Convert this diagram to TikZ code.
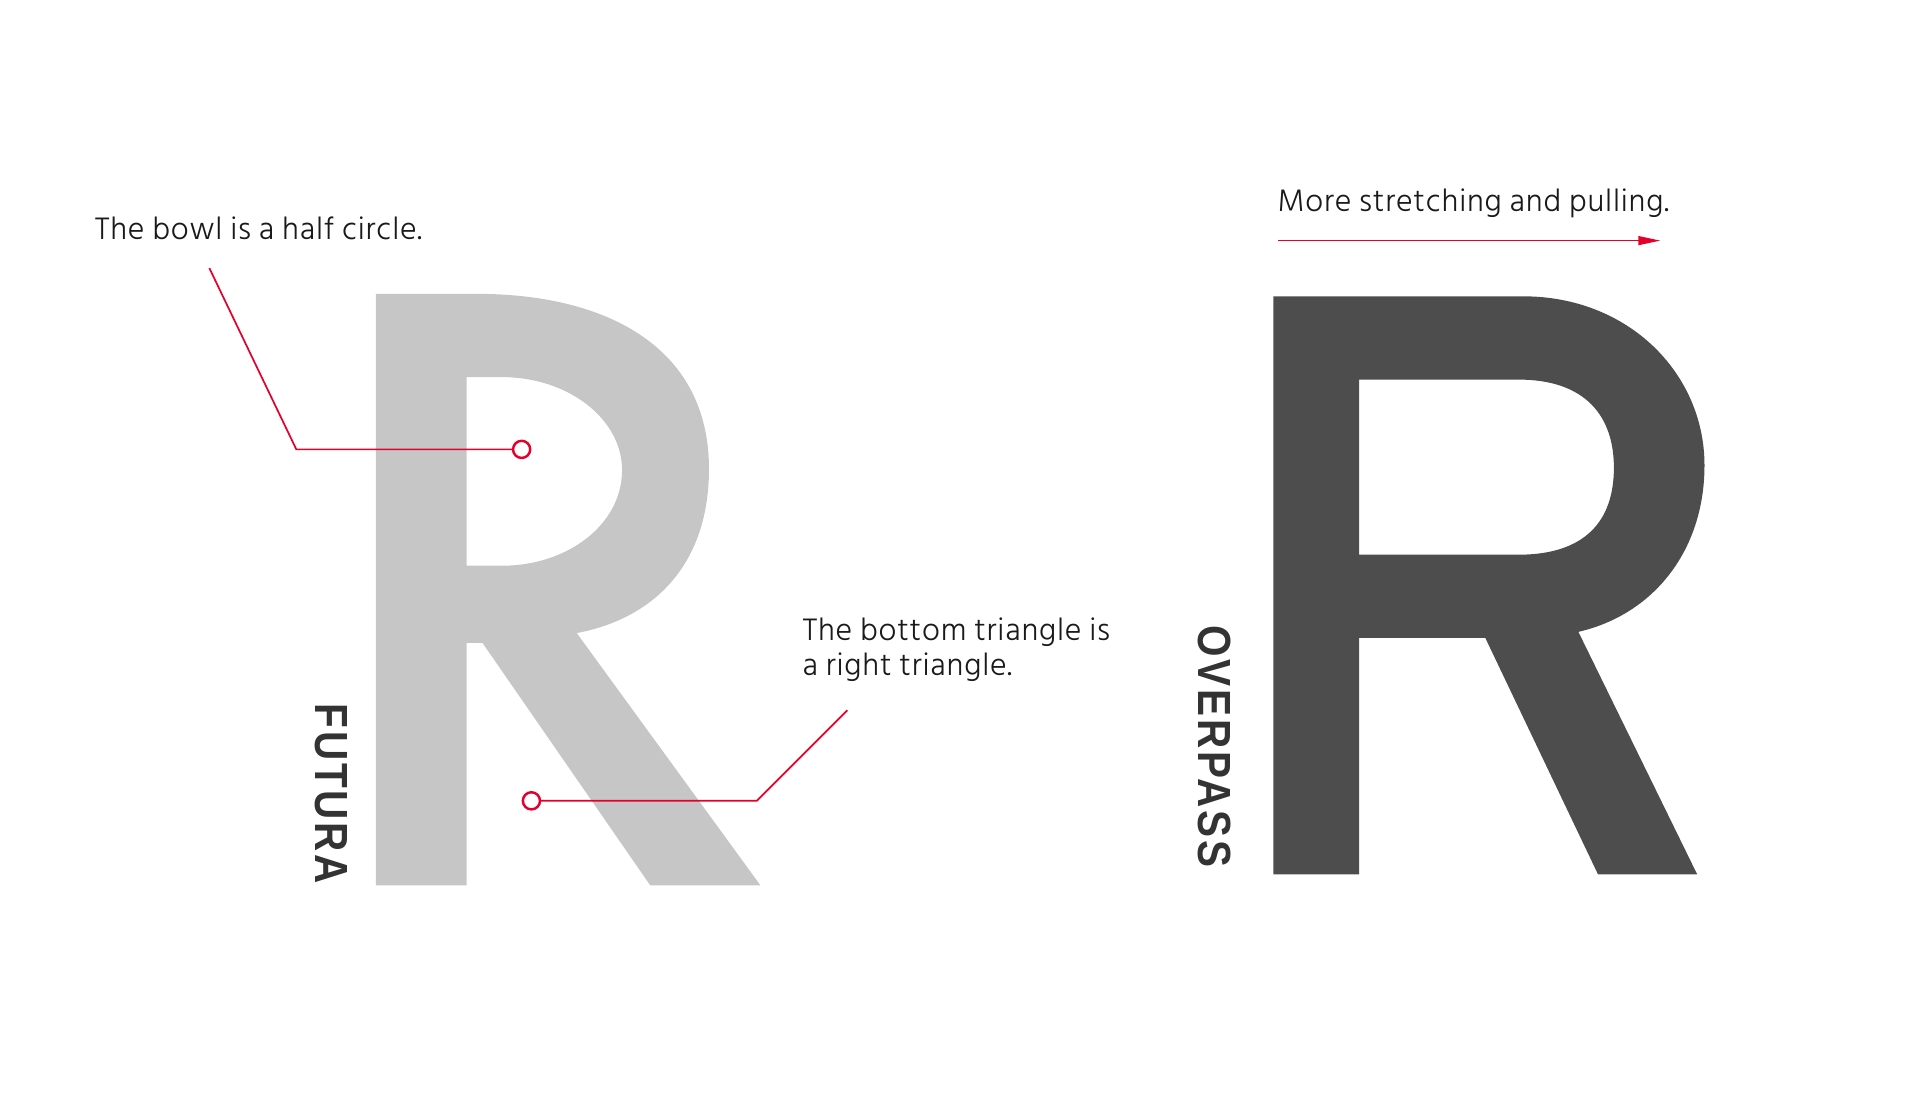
\documentclass[tikz,border=0pt]{standalone}
\usepackage{fontspec}
\setmainfont{Hind Siliguri}[UprightFont={* Light}, LetterSpace=2.5]
\newfontfamily\labelfont{Liberation Sans}[LetterSpace=6, FakeStretch=0.87]
\usetikzlibrary{arrows.meta}
\definecolor{futuragray}{HTML}{C6C6C6}
\definecolor{overpassgray}{HTML}{4D4D4D}
\definecolor{annred}{HTML}{E4002B}
\definecolor{labelgray}{HTML}{333333}
\definecolor{textblack}{HTML}{1A1A1A}
\tikzset{
  note/.style={text=textblack, inner sep=0pt, font=\fontsize{13}{14.4}\selectfont},
  leader/.style={draw=annred, line width=0.7pt},
  ring/.style={circle, draw=annred, line width=1pt, fill=white, minimum size=7pt, inner sep=0pt},
  fontlabel/.style={text=labelgray, inner sep=0pt, rotate=-90, font=\labelfont\bfseries\fontsize{19}{19}\selectfont},
}
\begin{document}
\begin{tikzpicture}[x=0.5pt,y=-0.5pt]
\useasboundingbox (0,0) rectangle (1568,909);
% Futura R
\fill[futuragray, even odd rule]
  (307,240) -- (390,240) .. controls (490,240) and (579,280) .. (579,383)
  .. controls (579,460) and (535,505) .. (471,517) -- (621,723) -- (531,723)
  -- (394,525) -- (381,525) -- (381,723) -- (307,723) -- cycle
  (381,308) -- (410,308) .. controls (464,308) and (508,342) .. (508,384)
  .. controls (508,428) and (464,462) .. (410,462) -- (381,462) -- cycle;
% Overpass R
\fill[overpassgray, even odd rule]
  (1040,242) -- (1244,242) .. controls (1330,242) and (1392,305) .. (1392,380)
  .. controls (1392,450) and (1350,502) .. (1289,516) -- (1386,714) -- (1305,714)
  -- (1213,521) -- (1110,521) -- (1110,714) -- (1040,714) -- cycle
  (1110,310) -- (1240,310) .. controls (1295,310) and (1318,340) .. (1318,382)
  .. controls (1318,425) and (1295,453) .. (1240,453) -- (1110,453) -- cycle;
% labels
\node[fontlabel] (futura) at (270.5,648.5) {FUTURA};
\node[fontlabel] (overpass) at (992,609.5) {OVERPASS};
% bowl note
\node[note, anchor=base west] (bowltext) at (77,196) {The bowl is a half circle.};
\coordinate (bowlA) at (171,219);
\coordinate (bowlB) at (242,367);
\node[ring] (bowlring) at (426,367) {};
\draw[leader] (bowlA) -- (bowlB) -- (bowlring.west);
% triangle note
\node[note, anchor=base west, align=left] (tritext) at (655,552) {The bottom triangle is\\a right triangle.};
\coordinate (triA) at (692,580);
\coordinate (triB) at (618,654);
\node[ring] (triring) at (434,654) {};
\draw[leader] (triA) -- (triB) -- (triring.east);
% stretching note
\node[note, anchor=base west] (stretchtext) at (1043,173) {More stretching and pulling.};
\coordinate (arrA) at (1044,196.5);
\coordinate (arrB) at (1356,196.5);
\draw[leader, -{Triangle[length=9pt,width=3.6pt]}] (arrA) -- (arrB);
\end{tikzpicture}
\end{document}
